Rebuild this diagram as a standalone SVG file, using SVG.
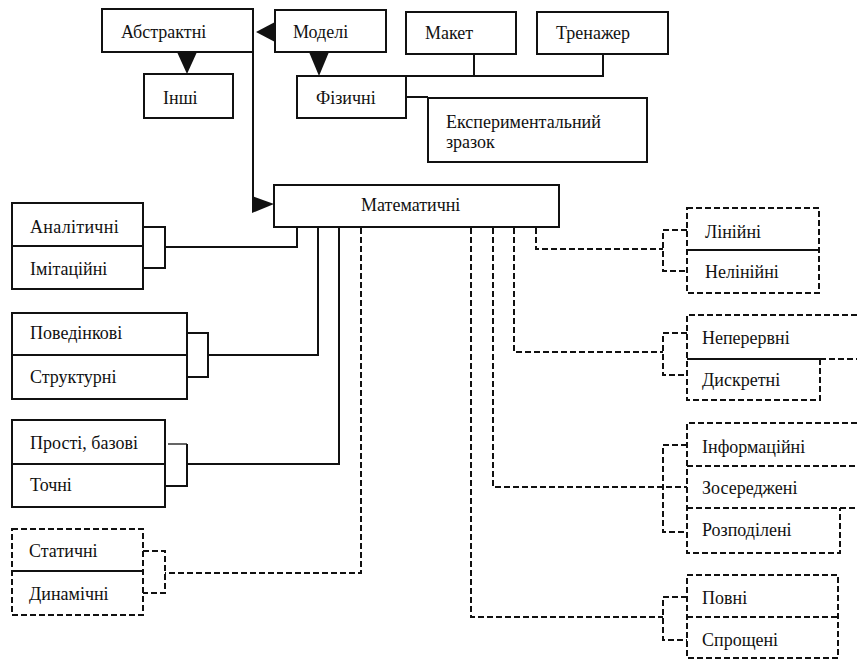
<svg xmlns="http://www.w3.org/2000/svg" width="857" height="665" viewBox="0 0 857 665">
<style>
  .box { fill: #fff; stroke: #111; stroke-width: 2; }
  .dbox { fill: none; stroke: #111; stroke-width: 2; stroke-dasharray: 6 3; }
  .ln { fill: none; stroke: #111; stroke-width: 2; }
  .dl { fill: none; stroke: #111; stroke-width: 2; stroke-dasharray: 6 3; }
  .thin { fill: none; stroke: #111; stroke-width: 1.3; }
  .ah { fill: #111; stroke: none; }
</style>
<rect width="857" height="665" fill="#fff"/>

<g id="connectors">
  <polygon class="ah" points="256,32 275,22 275,42"/>
  <polygon class="ah" points="177,52 197,52 187,74"/>
  <polygon class="ah" points="309,52 329,52 319,76"/>
  <path class="ln" d="M253,52 V200"/>
  <polygon class="ah" points="252,196 252,213 274,204"/>
  <path class="ln" d="M406,76 H603 V54"/>
  <path class="ln" d="M474,76 V54"/>
  <path class="ln" d="M406,97 H428"/>

  <path class="ln" d="M297,227 V247 H165"/>
  <path class="ln" d="M143,227 H165 V268 H143"/>
  <path class="ln" d="M318,227 V355 H208"/>
  <path class="ln" d="M187,333 H208 V377 H187"/>
  <path class="ln" d="M339,227 V464 H187"/>
  <path class="thin" d="M168,444 H187"/>
  <path class="ln" d="M187,444 V486 H166"/>
  <path class="dl" d="M361,228 V573 H165"/>
  <path class="dl" d="M143,551 H165 V593 H143"/>

  <path class="dl" d="M536,228 V249 H663"/>
  <path class="dl" d="M687,230 H663 V271 H687"/>
  <path class="dl" d="M514,228 V352 H663"/>
  <path class="dl" d="M687,333 H663 V375 H687"/>
  <path class="dl" d="M493,228 V487 H687"/>
  <path class="dl" d="M687,445 H663 V532 H687"/>
  <path class="dl" d="M471,228 V617 H663"/>
  <path class="dl" d="M687,597 H663 V640 H687"/>
</g>

<g font-family="'Liberation Serif', 'DejaVu Serif', serif" font-size="18" fill="#111">
<g id="abstraktni">
  <rect class="box" x="102" y="9" width="151" height="43"/>
  <text x="121" y="38">Абстрактні</text>
</g>
<g id="modeli">
  <rect class="box" x="275" y="10" width="111" height="42"/>
  <text x="293" y="38">Моделі</text>
</g>
<g id="maket">
  <rect class="box" x="406" y="12" width="110" height="42"/>
  <text x="425" y="39">Макет</text>
</g>
<g id="trenazher">
  <rect class="box" x="537" y="12" width="131" height="42"/>
  <text x="556" y="39">Тренажер</text>
</g>
<g id="inshi">
  <rect class="box" x="144" y="74" width="89" height="44"/>
  <text x="163" y="104">Інші</text>
</g>
<g id="fizychni">
  <rect class="box" x="297" y="76" width="109" height="42"/>
  <text x="316" y="104">Фізичні</text>
</g>
<g id="eksperymentalnyi">
  <rect class="box" x="428" y="98" width="219" height="64"/>
  <text x="446" y="128">Експериментальний</text>
  <text x="446" y="148">зразок</text>
</g>
<g id="matematychni">
  <rect class="box" x="274" y="185" width="285" height="42"/>
  <text x="361" y="211">Математичні</text>
</g>

<g id="analitychni-imitatsiini">
  <rect class="box" x="12" y="203" width="131" height="86"/>
  <path class="ln" d="M12,246 H143"/>
  <text x="30" y="233" letter-spacing="0.3">Аналітичні</text>
  <text x="30" y="275">Імітаційні</text>
</g>
<g id="povedinkovi-strukturni">
  <rect class="box" x="12" y="313" width="175" height="86"/>
  <path class="ln" d="M12,355 H187"/>
  <text x="30" y="339">Поведінкові</text>
  <text x="30" y="383">Структурні</text>
</g>
<g id="prosti-tochni">
  <rect class="box" x="12" y="420" width="153" height="87"/>
  <path class="ln" d="M12,464 H165"/>
  <text x="30" y="449">Прості, базові</text>
  <text x="30" y="491">Точні</text>
</g>
<g id="statychni-dynamichni">
  <rect class="dbox" x="12" y="529" width="131" height="86"/>
  <path class="ln" d="M12,571 H143"/>
  <text x="29" y="557">Статичні</text>
  <text x="29" y="600">Динамічні</text>
</g>

<g id="liniini-neliniini">
  <rect class="dbox" x="687" y="208" width="132" height="85"/>
  <path class="ln" d="M687,250 H812"/>
  <path class="dl" d="M812,250 H819"/>
  <text x="705" y="238">Лінійні</text>
  <text x="705" y="278">Нелінійні</text>
</g>
<g id="neperervni-dyskretni">
  <path class="dl" d="M857,315 H687 V400 H820 V359"/>
  <path class="ln" d="M687,359 H820"/>
  <path class="dl" d="M820,359 H857"/>
  <text x="702" y="344">Неперервні</text>
  <text x="702" y="386">Дискретні</text>
</g>
<g id="informatsiini-zoseredzheni-rozpodileni">
  <path class="dl" d="M857,423 H687 V553 H840 V508"/>
  <path class="dl" d="M687,466 H857"/>
  <path class="dl" d="M687,508 H857"/>
  <text x="702" y="453">Інформаційні</text>
  <text x="702" y="494">Зосереджені</text>
  <text x="702" y="536">Розподілені</text>
</g>
<g id="povni-sproshcheni">
  <rect class="dbox" x="687" y="575" width="151" height="83"/>
  <path class="dl" d="M687,617 H838"/>
  <text x="702" y="604">Повні</text>
  <text x="702" y="646">Спрощені</text>
</g>
</g>
</svg>
